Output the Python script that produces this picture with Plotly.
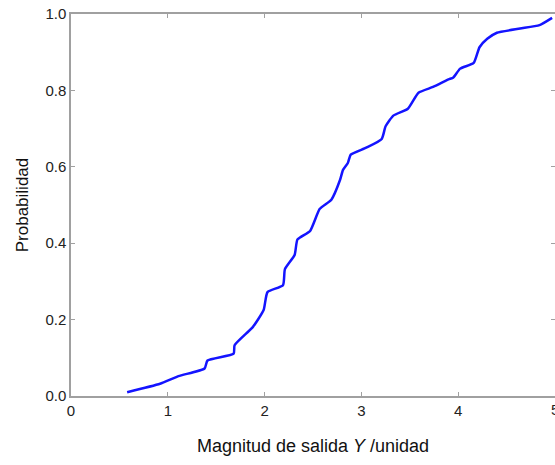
import plotly.graph_objects as go

magnitud = [0.58, 0.92, 1.11, 1.38, 1.41, 1.68, 1.69, 1.88, 1.99, 2.03, 2.19, 2.21, 2.31, 2.34,
            2.47, 2.57, 2.69, 2.78, 2.81, 2.86, 2.89, 3.05, 3.21, 3.25, 3.33, 3.48, 3.59, 3.74,
            3.90, 3.95, 4.02, 4.16, 4.22, 4.30, 4.40, 4.64, 4.84, 4.97]
probabilidad = [0.01, 0.032, 0.052, 0.072, 0.093, 0.111, 0.133, 0.181, 0.225, 0.272, 0.29, 0.332,
                0.369, 0.41, 0.432, 0.49, 0.514, 0.566, 0.592, 0.61, 0.632, 0.65, 0.673, 0.706,
                0.734, 0.752, 0.794, 0.809, 0.829, 0.834, 0.857, 0.872, 0.913, 0.935, 0.951,
                0.962, 0.971, 0.99]

x_ticks = [0, 1, 2, 3, 4, 5]
y_ticks = [0.0, 0.2, 0.4, 0.6, 0.8, 1.0]

fig = go.Figure()
fig.add_trace(go.Scatter(x=magnitud, y=probabilidad, mode="lines",
                         line=dict(color="rgb(20,20,255)", width=2.5, shape="spline", smoothing=0.5),
                         showlegend=False, hoverinfo="skip"))
# invisible trace to activate the right-hand tick axis
fig.add_trace(go.Scatter(x=[None], y=[None], yaxis="y2", showlegend=False, hoverinfo="skip"))

font = "Liberation Sans, Arial, sans-serif"
gray = "#a0a0a0"
tickfont = dict(family=font, size=15, color="#222")

fig.update_layout(
    width=555, height=465,
    margin=dict(l=71, r=0, t=14, b=69),
    plot_bgcolor="white", paper_bgcolor="white",
    xaxis=dict(range=[0, 5], tickvals=x_ticks, ticktext=[str(v) for v in x_ticks],
               showline=True, linecolor=gray, linewidth=1.5, ticks="inside", tickcolor=gray,
               ticklen=4, mirror="ticks", showgrid=False, zeroline=False, tickfont=tickfont,
               title=dict(text="Magnitud de salida <i>Y</i> /unidad",
                          font=dict(family=font, size=18, color="#111"), standoff=22)),
    yaxis=dict(range=[0, 1.0], tickvals=y_ticks, ticktext=[f"{v:.1f}" for v in y_ticks],
               showline=True, linecolor=gray, linewidth=1.5, ticks="inside", tickcolor=gray,
               ticklen=4, mirror=False, showgrid=False, zeroline=False, tickfont=tickfont,
               title=dict(text="Probabilidad", font=dict(family=font, size=17, color="#111"),
                          standoff=12)),
    yaxis2=dict(range=[0, 1.0], tickvals=y_ticks, overlaying="y", side="right",
                showline=False, ticks="inside", tickcolor=gray, ticklen=4,
                showticklabels=False, showgrid=False, zeroline=False),
    annotations=[dict(x=x_ticks[-1], y=0, xref="x", yref="paper", yanchor="top",
                      text=str(x_ticks[-1]), showarrow=False, yshift=-3,
                      font=tickfont)],
)

fig.write_html("out.html")
